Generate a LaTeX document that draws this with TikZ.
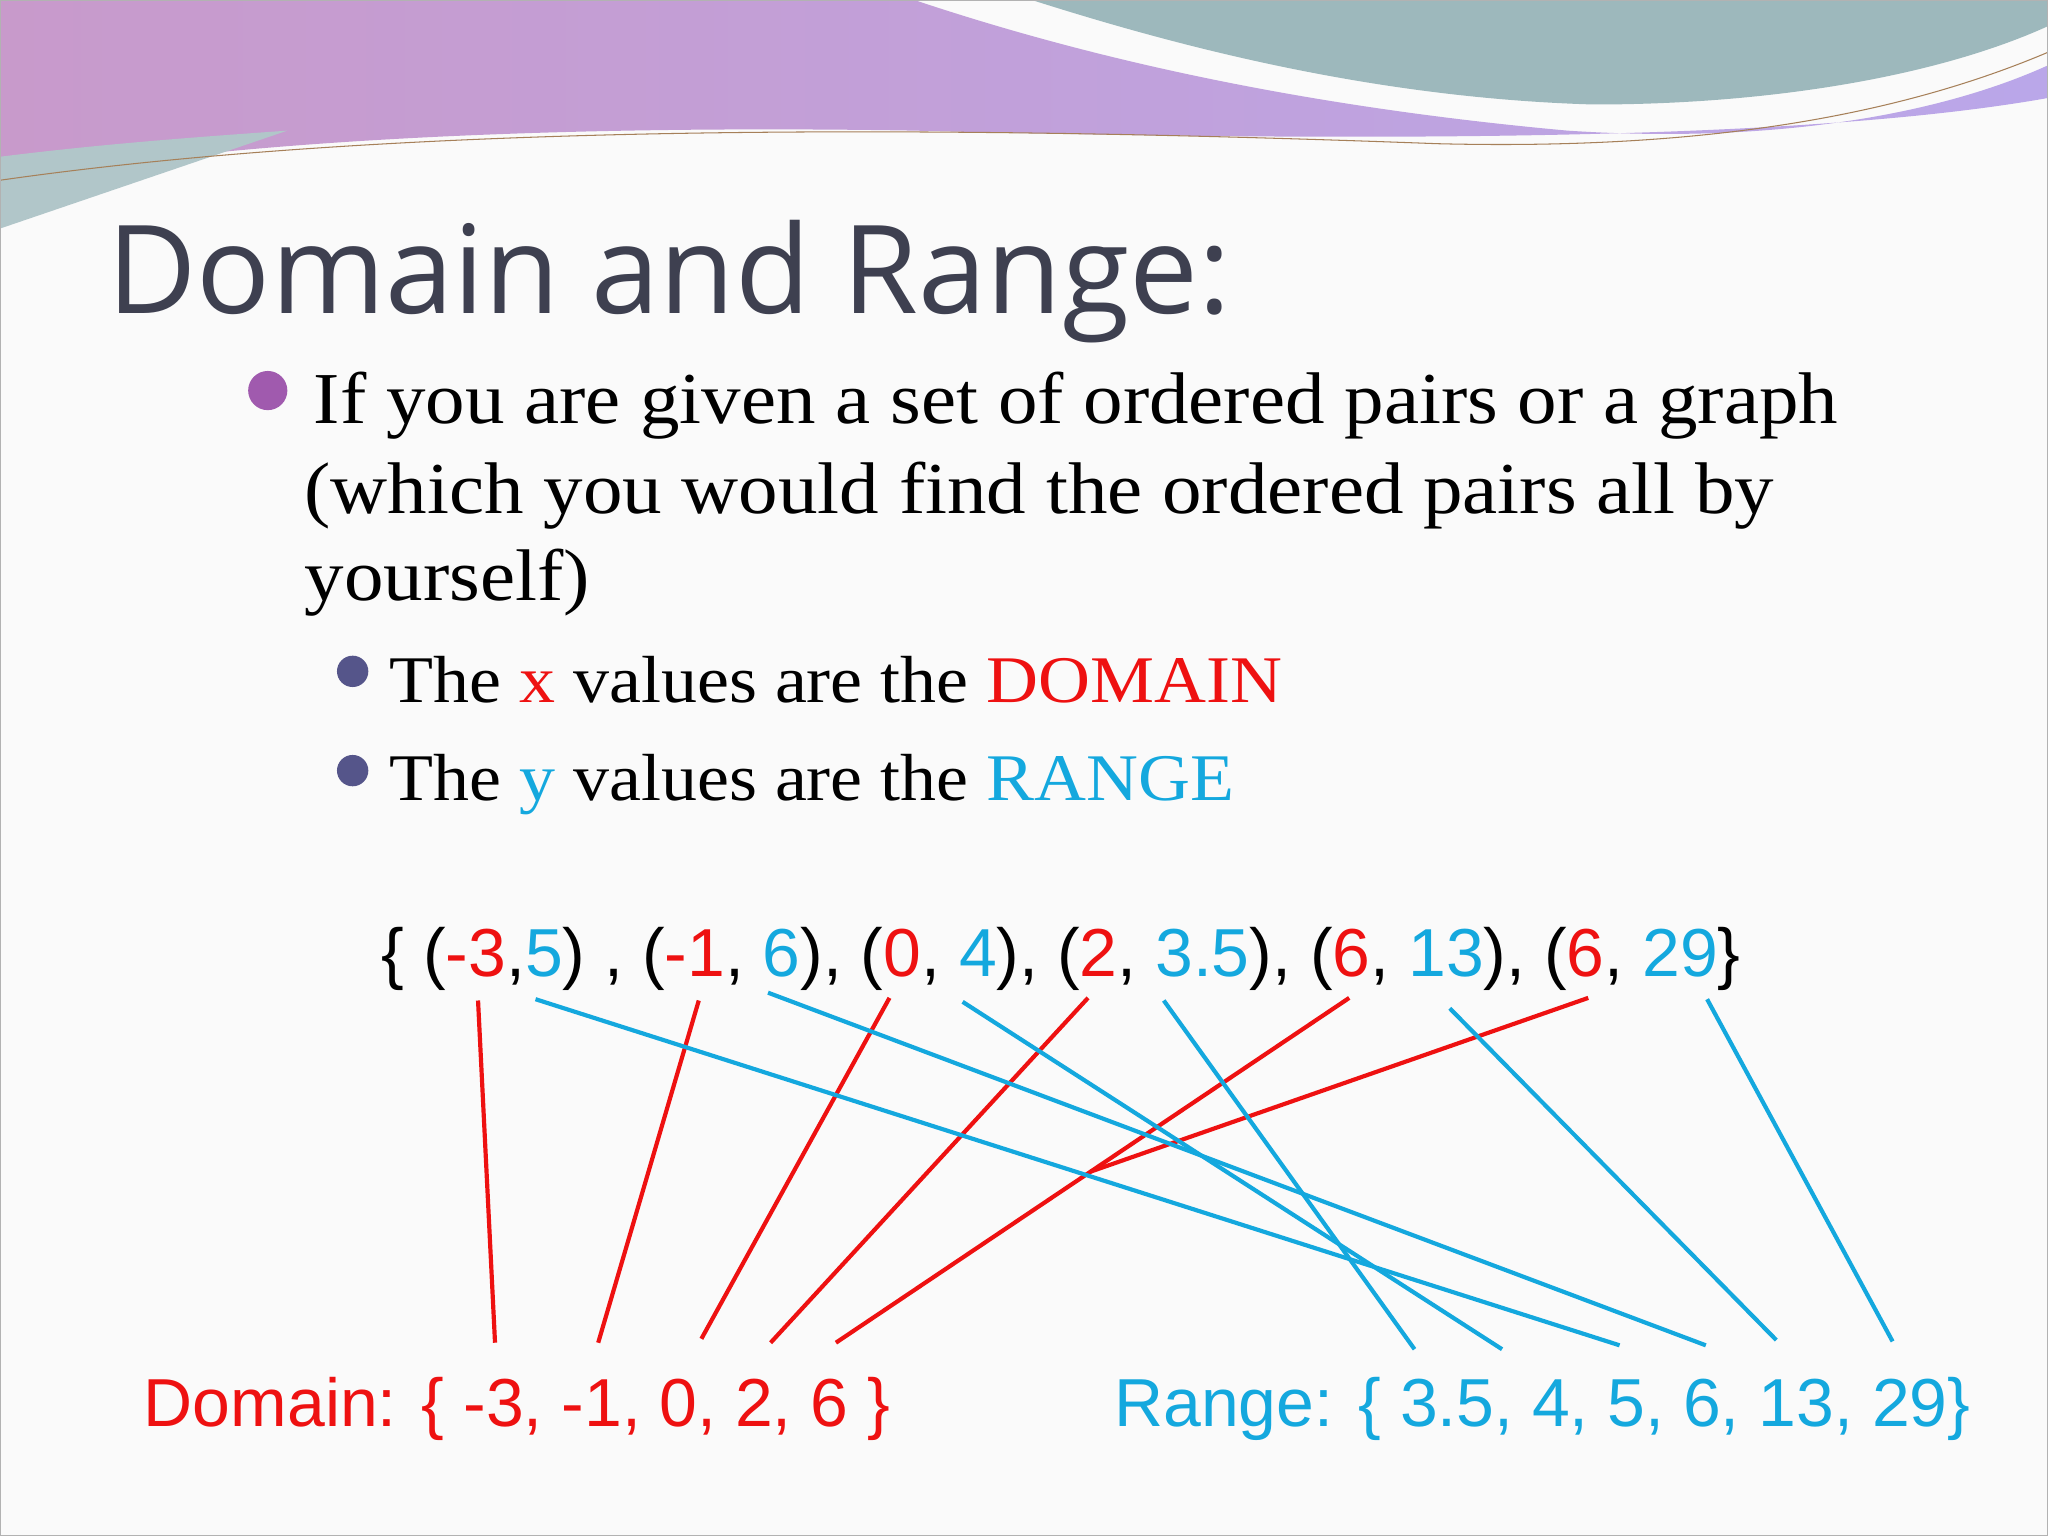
\documentclass[tikz,border=0pt]{standalone}
\usepackage{fontspec}
\setmainfont{Liberation Serif}[FakeStretch=1.08]
\newfontfamily\titlefont{Open Sans}
\newfontfamily\arialf{Liberation Sans}
\definecolor{dred}{HTML}{EE1111}
\definecolor{dblue}{HTML}{14A8DE}
\definecolor{ttl}{HTML}{3E4050}
\definecolor{bpurp}{HTML}{A05AAE}
\definecolor{bdark}{HTML}{55558A}
\definecolor{wpurp}{HTML}{C89ACB}
\definecolor{wteal}{HTML}{9DB8BC}
\begin{document}
\begin{tikzpicture}[x=1pt,y=-1pt,
  rl/.style={draw=dred,line width=3.2pt},
  bl/.style={draw=dblue,line width=3.2pt},
  bt/.style={anchor=base west,font=\fontsize{56}{68}\selectfont},
  st/.style={anchor=base west,font=\arialf\fontsize{52}{60}\selectfont}]
\useasboundingbox (0,0) rectangle (1568,1176);
\fill[white!96!gray] (0,0) rectangle (1568,1176);
% banner
\shade[left color=wpurp,right color=wpurp!70!blue!60!white] (0,0) -- (700,0) .. controls (820,40) and (980,80) .. (1200,100) .. controls (1350,110) and (1480,90) .. (1568,50) -- (1568,75) .. controls (1400,105) and (1100,110) .. (700,100) .. controls (400,95) and (150,110) .. (0,140) -- cycle;
\fill[wteal] (790,0) -- (1568,0) -- (1568,20) .. controls (1480,60) and (1350,80) .. (1220,80) .. controls (1050,75) and (900,35) .. (790,0) -- cycle;
\fill[wteal!80!white] (0,120) .. controls (80,110) and (150,105) .. (220,100) -- (0,175) -- cycle;
\draw[brown!60!gray,line width=0.8pt] (0,138) .. controls (300,95) and (700,95) .. (1100,110) .. controls (1300,115) and (1450,90) .. (1568,40);
\draw[gray!60,line width=1pt] (0.5,0.5) rectangle (1567.5,1175.5);
% title
\node[anchor=base west,text=ttl,font=\titlefont\fontsize{94}{104}\selectfont,inner sep=0] (title) at (82,240) {Domain and Range:};
% bullets
\fill[bpurp] (205,299) circle (15);
\node[bt,inner sep=0] (l1) at (240,324) {If you are given a set of ordered pairs or a graph};
\node[bt,inner sep=0] (l2) at (233,393) {(which you would find the ordered pairs all by};
\node[bt,inner sep=0] (l3) at (233,460) {yourself)};
\fill[bdark] (270,514) circle (12);
\fill[bdark] (270,590) circle (12);
\node[bt,inner sep=0,font=\fontsize{51}{60}\selectfont] (s1) at (298,538) {The \textcolor{dred}{x} values are the \textcolor{dred}{DOMAIN}};
\node[bt,inner sep=0,font=\fontsize{51}{60}\selectfont] (s2) at (298,613) {The \textcolor{dblue}{y} values are the \textcolor{dblue}{RANGE}};
% set
\node[st,inner sep=0] (set) at (292,748) {\{ (\textcolor{dred}{-3},\textcolor{dblue}{5}) , (\textcolor{dred}{-1}, \textcolor{dblue}{6}), (\textcolor{dred}{0}, \textcolor{dblue}{4}), (\textcolor{dred}{2}, \textcolor{dblue}{3.5}), (\textcolor{dred}{6}, \textcolor{dblue}{13}), (\textcolor{dred}{6}, \textcolor{dblue}{29}\}};
\node[st,inner sep=0,text=dred] (dom) at (110,1092) {Domain: \{ -3, -1, 0, 2, 6 \}};
\node[st,inner sep=0,text=dblue] (ran) at (853,1092) {Range: \{ 3.5, 4, 5, 6, 13, 29\}};
% endpoints
\foreach \n/\x/\y in {a/366/766,b/535/766,c/681/764,d/833/764,e/1033/764,f/1216/764,
  A/379/1028,B/458/1028,C/537/1025,D/590/1028,E/640/1028,F/835/897,
  g/410/765,h/588/760,i/737/767,j/891/766,k/1110/772,l/1307/765,
  G/1240/1030,H/1306/1030,I/1150/1033,J/1083/1033,K/1360/1026,L/1449/1027}
  \coordinate (\n) at (\x,\y);
\foreach \p/\q in {a/A,b/B,c/C,d/D,e/E,f/F} \draw[rl] (\p) -- (\q);
\foreach \p/\q in {g/G,h/H,i/I,j/J,k/K,l/L} \draw[bl] (\p) -- (\q);
\end{tikzpicture}
\end{document}
